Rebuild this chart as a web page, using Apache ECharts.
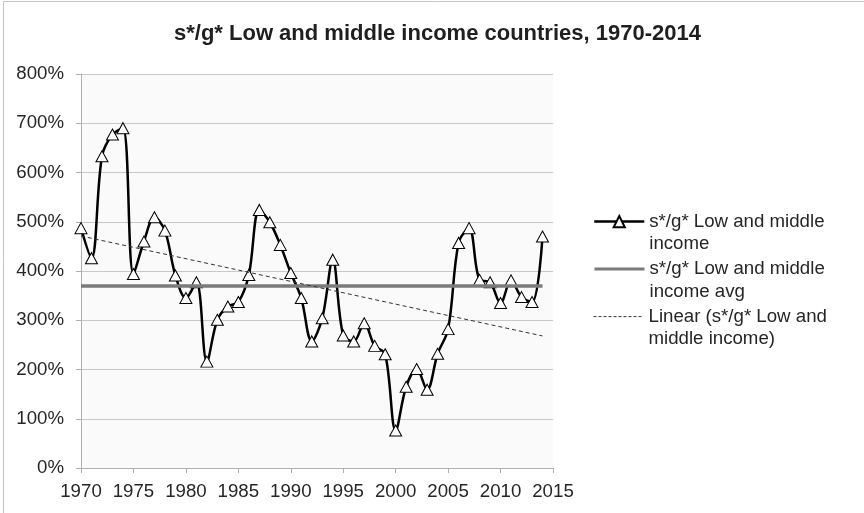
<!DOCTYPE html>
<html>
<head>
<meta charset="utf-8">
<script src="https://cdn.jsdelivr.net/npm/echarts@6/dist/echarts.min.js"></script>
<style>
  html, body { margin: 0; padding: 0; background: #fff; }
  #chart { width: 864px; height: 513px; }
</style>
</head>
<body>
<div id="chart"></div>
<script>
// Years covered by the series
const years = [
  1970, 1971, 1972, 1973, 1974, 1975, 1976, 1977, 1978, 1979,
  1980, 1981, 1982, 1983, 1984, 1985, 1986, 1987, 1988, 1989,
  1990, 1991, 1992, 1993, 1994, 1995, 1996, 1997, 1998, 1999,
  2000, 2001, 2002, 2003, 2004, 2005, 2006, 2007, 2008, 2009,
  2010, 2011, 2012, 2013, 2014
];

// s*/g* ratio for low and middle income countries, in percent
const ratio = [
  487, 426, 633, 677, 690, 394, 460, 509, 482, 391,
  345, 377, 216, 301, 328, 337, 392, 524, 499, 453,
  396, 345, 257, 304, 423, 269, 257, 294, 248, 231,
   76, 165, 201, 159, 232, 282, 457, 487, 382, 377,
  335, 381, 347, 337, 470
];

// Axis ticks
const xTicks = [1970, 1975, 1980, 1985, 1990, 1995, 2000, 2005, 2010, 2015];
const yTicks = [0, 100, 200, 300, 400, 500, 600, 700, 800];

// Series names and their wrapped legend labels
const seriesNames = [
  's*/g* Low and middle income',
  's*/g* Low and middle income avg',
  'Linear (s*/g* Low and middle income)'
];
const legendLabels = [
  's*/g* Low and middle\nincome',
  's*/g* Low and middle\nincome avg',
  'Linear (s*/g* Low and\nmiddle income)'
];

// Mean of the series
const mean = ratio.reduce((a, b) => a + b, 0) / ratio.length;

// Least-squares linear trend over the years
const n = years.length;
const mx = years.reduce((a, b) => a + b, 0) / n;
let sxy = 0, sxx = 0;
for (let i = 0; i < n; i++) {
  sxy += (years[i] - mx) * (ratio[i] - mean);
  sxx += (years[i] - mx) * (years[i] - mx);
}
const slope = sxy / sxx;
const trendAt = (yr) => mean + slope * (yr - mx);

const firstYear = years[0];
const lastYear = years[years.length - 1];

const FONT = '"Liberation Sans", Arial, Helvetica, sans-serif';
const TEXT = '#262626';
const LINE_H = 22.4;

// Line styles shared by the series and their legend icons
const mainLine = { color: '#000000', width: 2.5 };
const avgLine = { color: '#7a7a7a', width: 3.5 };
const trendLine = { color: '#333333', width: 1, type: [4, 3] };
const legendLines = [
  { color: '#000000', width: 2.5 },
  { color: '#7a7a7a', width: 3 },
  { color: '#333333', width: 1, type: [3, 2] }
];

const chart = echarts.init(document.getElementById('chart'), null, { renderer: 'canvas' });

// One legend block per series; a leading blank line keeps the icon on the first text line
const legendTops = [188, 235.5, 283];
const legends = seriesNames.map((name, i) => ({
  data: [name],
  orient: 'vertical',
  left: 593,
  top: legendTops[i],
  padding: 0,
  itemWidth: 50,
  itemHeight: 14,
  itemGap: 0,
  selectedMode: false,
  lineStyle: legendLines[i],
  // only the marker series shows a symbol in its legend icon
  itemStyle: i === 0 ? {} : { opacity: 0 },
  formatter: () => '\n' + legendLabels[i],
  textStyle: {
    fontFamily: FONT,
    fontSize: 18.67,
    lineHeight: LINE_H,
    color: TEXT
  }
}));

chart.setOption({
  animation: false,
  backgroundColor: '#ffffff',
  title: {
    text: 's*/g* Low and middle income countries, 1970-2014',
    left: 174,
    top: 23,
    padding: 0,
    textStyle: {
      fontFamily: FONT,
      fontSize: 22,
      fontWeight: 'bold',
      color: '#1f1f1f'
    }
  },
  legend: legends,
  grid: {
    left: 81,
    right: 311,
    top: 74,
    bottom: 45,
    show: true,
    backgroundColor: '#fafafa',
    borderWidth: 0
  },
  xAxis: {
    type: 'value',
    min: xTicks[0],
    max: xTicks[xTicks.length - 1],
    interval: xTicks[1] - xTicks[0],
    axisLine: { show: true, lineStyle: { color: '#b0b0b0', width: 1 } },
    axisTick: { show: true, inside: false, length: 5, lineStyle: { color: '#b0b0b0' } },
    splitLine: { show: false },
    axisLabel: {
      margin: 14,
      fontFamily: FONT,
      fontSize: 18.67,
      color: TEXT,
      formatter: (v) => String(v)
    }
  },
  yAxis: {
    type: 'value',
    min: yTicks[0],
    max: yTicks[yTicks.length - 1],
    interval: yTicks[1] - yTicks[0],
    axisLine: { show: true, lineStyle: { color: '#b0b0b0', width: 1 } },
    axisTick: { show: true, inside: false, length: 5, lineStyle: { color: '#b0b0b0' } },
    splitLine: { show: true, lineStyle: { color: '#c8c8c8', width: 1 } },
    axisLabel: {
      margin: 17,
      fontFamily: FONT,
      fontSize: 18.67,
      color: TEXT,
      formatter: '{value}%'
    }
  },
  series: [
    {
      name: seriesNames[0],
      type: 'line',
      data: years.map((yr, i) => [yr, ratio[i]]),
      smooth: 0.35,
      symbol: 'triangle',
      symbolSize: [12, 11],
      showAllSymbol: true,
      lineStyle: mainLine,
      itemStyle: { color: '#ffffff', borderColor: '#000000', borderWidth: 1 },
      z: 2
    },
    {
      name: seriesNames[1],
      type: 'line',
      data: [[firstYear, mean], [lastYear, mean]],
      symbol: 'none',
      lineStyle: avgLine,
      itemStyle: { color: avgLine.color },
      z: 3
    },
    {
      name: seriesNames[2],
      type: 'line',
      data: [[firstYear, trendAt(firstYear)], [lastYear, trendAt(lastYear)]],
      symbol: 'none',
      lineStyle: trendLine,
      itemStyle: { color: trendLine.color },
      z: 4
    }
  ],
  graphic: [
    {
      // chart frame: only its top and left edges fall inside the canvas
      type: 'rect',
      silent: true,
      shape: { x: 3.5, y: 1.5, width: 900, height: 600 },
      style: { fill: 'none', stroke: '#c4c4c4', lineWidth: 1 }
    }
  ]
});
</script>
</body>
</html>
